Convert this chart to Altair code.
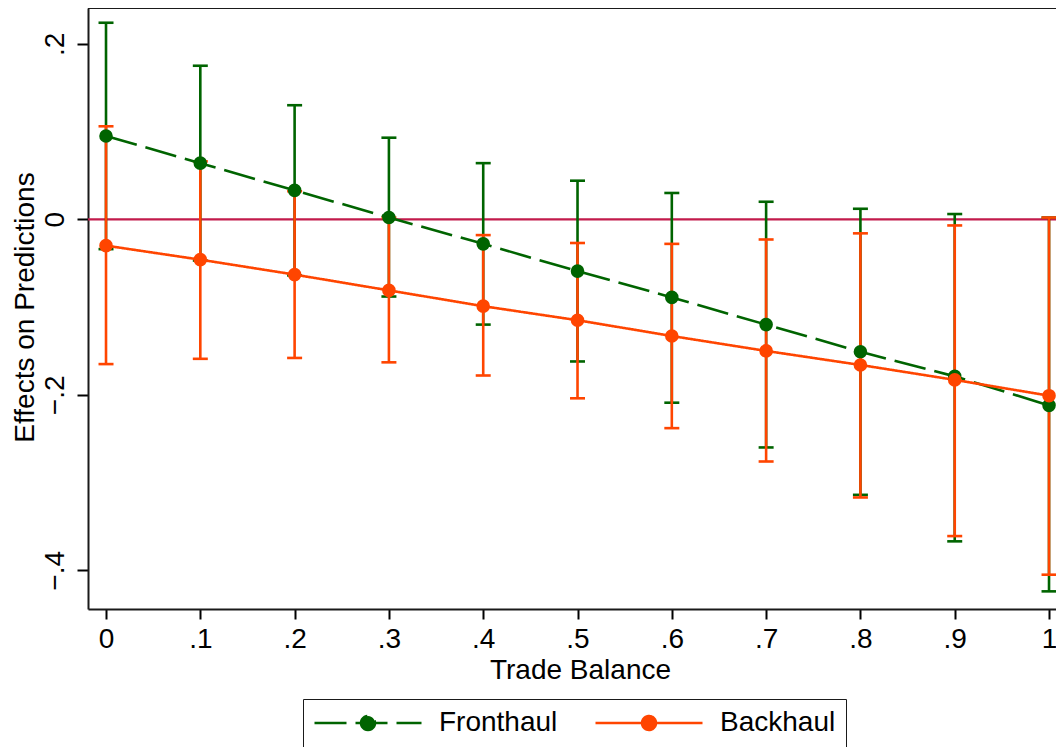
import math
import altair as alt
import pandas as pd

# ---- data ----
x_vals = [0.0, 0.1, 0.2, 0.3, 0.4, 0.5, 0.6, 0.7, 0.8, 0.9, 1.0]

front_est = [0.095, 0.064, 0.033, 0.002, -0.028, -0.059, -0.089, -0.120, -0.151, -0.179, -0.212]
front_lo = [-0.034, -0.047, -0.064, -0.088, -0.120, -0.162, -0.209, -0.260, -0.314, -0.367, -0.424]
front_hi = [0.224, 0.175, 0.130, 0.093, 0.064, 0.044, 0.030, 0.020, 0.012, 0.006, 0.002]

back_est = [-0.030, -0.046, -0.063, -0.081, -0.099, -0.115, -0.133, -0.150, -0.166, -0.183, -0.201]
back_lo = [-0.165, -0.159, -0.158, -0.163, -0.178, -0.204, -0.238, -0.276, -0.317, -0.361, -0.405]
back_hi = [0.106, 0.066, 0.032, 0.002, -0.018, -0.027, -0.028, -0.023, -0.016, -0.007, 0.002]

series_names = ["Fronthaul", "Backhaul"]
series_colors = ["#006400", "#FF4500"]
series_dash = [[32, 9], [1, 0]]

y_ticks = [-0.4, -0.2, 0.0, 0.2]
zero_line = [0.0]

x_title = "Trade Balance"
y_title = "Effects on Predictions"

# ---- table ----
rows = []
for name, est, lo, hi in [
    (series_names[0], front_est, front_lo, front_hi),
    (series_names[1], back_est, back_lo, back_hi),
]:
    for xv, e, l, h in zip(x_vals, est, lo, hi):
        rows.append({"series": name, "x": xv, "est": e, "lo": l, "hi": h})
df = pd.DataFrame(rows)
zdf = pd.DataFrame({"y": zero_line})

FONT = "Liberation Sans"
INK = "#1a1a1a"

XS = alt.Scale(domain=[-0.0191, 1.0074], nice=False, zero=False)
YS = alt.Scale(domain=[-0.4441, 0.2408], nice=False, zero=False)

XAX = alt.Axis(
    values=x_vals,
    labelExpr="datum.value == 0 ? '0' : datum.value == 1 ? '1' : replace(format(datum.value, '.1f'), '0.', '.')",
    title=x_title,
    titleX=492, titleY=69, titleAlign="center", titleBaseline="alphabetic",
    tickSize=10, labelPadding=28, labelBaseline="alphabetic", labelAlign="center",
    grid=False, domain=True, labelFlush=False, labelOverlap=False,
)
YAX = alt.Axis(
    values=y_ticks,
    labelExpr="datum.value == 0 ? '0' : replace(format(datum.value, '.1f'), '0.', '.')",
    title=y_title,
    titleAngle=270, titleX=-55, titleY=299, titleAlign="center", titleBaseline="alphabetic",
    tickSize=11, labelPadding=14, labelAngle=270, labelAlign="center", labelBaseline="alphabetic",
    grid=False, domain=True, labelFlush=False, labelOverlap=False,
)


def xenc():
    return alt.X("x:Q", scale=XS, axis=XAX)


def yenc(field):
    return alt.Y(field, scale=YS, axis=YAX)


# legend symbol: a line with a filled dot in the middle
r = 0.13
pts = [(r * math.cos(2 * math.pi * k / 24), r * math.sin(2 * math.pi * k / 24)) for k in range(24)]
circle_path = "M" + "L".join(f"{px:.4f},{py:.4f}" for px, py in pts) + "Z"
symbol_path = "M-1,0L1,0" + circle_path

LEG = alt.Legend(
    title=None,
    orient="none", legendX=215, legendY=691,
    direction="horizontal", columns=2,
    symbolType=symbol_path, symbolSize=107 * 107,
    symbolStrokeWidth=2.6, symbolOpacity=1,
    clipHeight=28, padding=10, columnPadding=36, labelOffset=16,
    labelFont=FONT, labelFontSize=28, labelColor="black", labelLimit=400,
    labelBaseline="middle",
    strokeColor=INK,
)

SC = alt.Scale(domain=series_names, range=series_colors)
STROKE = alt.Stroke("series:N", scale=SC, legend=LEG)
FILL = alt.Fill("series:N", scale=SC, legend=LEG)
DASH = alt.StrokeDash("series:N", scale=alt.Scale(domain=series_names, range=series_dash), legend=LEG)

base = alt.Chart(df)


def ci_layers(name):
    d = base.transform_filter(alt.datum.series == name)
    bar = d.mark_rule(strokeWidth=2.6).encode(x=xenc(), y=yenc("lo:Q"), y2="hi:Q", stroke=STROKE)
    cap_lo = d.mark_tick(orient="horizontal", size=15, thickness=2.6, opacity=1, filled=True).encode(
        x=xenc(), y=yenc("lo:Q"), fill=FILL)
    cap_hi = d.mark_tick(orient="horizontal", size=15, thickness=2.6, opacity=1, filled=True).encode(
        x=xenc(), y=yenc("hi:Q"), fill=FILL)
    return [bar, cap_lo, cap_hi]


# top edge of the plot frame
frame_top = alt.Chart(zdf).mark_rule(color=INK, strokeWidth=2).encode(y=alt.value(0))
zero = alt.Chart(zdf).mark_rule(color="#C21A4B", strokeWidth=2.2).encode(y=yenc("y:Q"))

lines = base.mark_line(strokeWidth=2.6).encode(
    x=xenc(), y=yenc("est:Q"), stroke=STROKE, strokeDash=DASH
)
points = base.mark_circle(size=185, opacity=1).encode(x=xenc(), y=yenc("est:Q"), fill=FILL)

chart = alt.layer(
    zero, *ci_layers(series_names[0]), *ci_layers(series_names[1]), lines, points, frame_top
).properties(
    width=968, height=601,
    padding={"left": 80, "top": 0, "right": 0, "bottom": 138},
    autosize=alt.AutoSizeParams(type="none"),
    background="white",
).configure_view(
    stroke=None
).configure_axis(
    labelFont=FONT, labelFontSize=28, labelColor="black",
    titleFont=FONT, titleFontSize=28, titleColor="black", titleFontWeight="normal",
    tickColor="black", tickWidth=2, domainColor=INK, domainWidth=2,
)

chart.save("out.html", embed_options={"renderer": "svg", "actions": False})
